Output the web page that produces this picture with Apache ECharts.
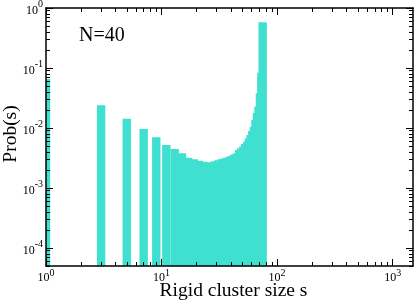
<!DOCTYPE html>
<html>
<head>
<meta charset="utf-8">
<script src="https://cdn.jsdelivr.net/npm/echarts@6/dist/echarts.min.js"></script>
<style>
  html, body { margin: 0; padding: 0; background: #fff; }
  #chart { width: 415px; height: 306px; }
</style>
</head>
<body>
<div id="chart"></div>
<script>
// ---- data ----
const clusterSizes = [1, 3, 5, 7, 9, 11, 13, 15, 17, 19, 21, 23, 25, 27, 29, 31, 33, 35, 37, 39,
                      41, 43, 45, 47, 49, 51, 53, 55, 57, 59, 61, 63, 65, 67, 69, 71, 73, 75];
const probValues   = [0.0656, 0.0239, 0.0143, 0.0096, 0.0070, 0.0052, 0.00447, 0.00379, 0.0032, 0.0030,
                      0.00285, 0.00274, 0.00268, 0.00264, 0.0028, 0.0029, 0.0030, 0.0031, 0.0032, 0.0033,
                      0.00345, 0.0036, 0.0038, 0.0043, 0.0046, 0.0049, 0.0054, 0.0059, 0.0067, 0.0076,
                      0.0089, 0.0105, 0.0136, 0.0178, 0.0225, 0.038, 0.083, 0.58];

// axis ranges and ticks
const xRange = [1, 1500];
const yRange = [5e-5, 1];
const xMajorTicks = [1, 10, 100, 1000];
const xMinorTicks = [2, 3, 4, 5, 6, 7, 8, 9, 20, 30, 40, 50, 60, 70, 80, 90,
                     200, 300, 400, 500, 600, 700, 800, 900];
const yMajorTicks = [1e-4, 1e-3, 1e-2, 1e-1, 1];
const yMinorTicks = [5e-5, 6e-5, 7e-5, 8e-5, 9e-5,
                     2e-4, 3e-4, 4e-4, 5e-4, 6e-4, 7e-4, 8e-4, 9e-4,
                     2e-3, 3e-3, 4e-3, 5e-3, 6e-3, 7e-3, 8e-3, 9e-3,
                     2e-2, 3e-2, 4e-2, 5e-2, 6e-2, 7e-2, 8e-2, 9e-2,
                     0.2, 0.3, 0.4, 0.5, 0.6, 0.7, 0.8, 0.9];
const xTitle = 'Rigid cluster size s';
const yTitle = 'Prob(s)';
const annotation = 'N=40';

const FONT = '"Liberation Serif", "Times New Roman", serif';
const BAR_COLOR = '#40E0D0';
const lg = v => Math.log10(v);

function powLabel(v) {
  const e = Math.round(Math.log10(v));
  return '{b|10}{s|' + e + '}';
}
const xLabelRich = {
  b: { fontFamily: FONT, fontSize: 12, color: '#000', lineHeight: 16, verticalAlign: 'bottom' },
  s: { fontFamily: FONT, fontSize: 10, color: '#000', lineHeight: 10, verticalAlign: 'top' }
};
const yLabelRich = {
  b: { fontFamily: FONT, fontSize: 12, color: '#000', lineHeight: 18, verticalAlign: 'bottom' },
  s: { fontFamily: FONT, fontSize: 10, color: '#000', lineHeight: 10, verticalAlign: 'top' }
};

// main log axes: carry data, labels, names and frame lines
const xMain = {
  type: 'log', logBase: 10, min: xRange[0], max: xRange[1], position: 'bottom', z: 10,
  axisLine: { show: true, onZero: false, lineStyle: { color: '#000', width: 1.5 } },
  axisTick: { show: false }, minorTick: { show: false }, splitLine: { show: false },
  axisLabel: { show: true, customValues: xMajorTicks, margin: 2, formatter: powLabel, rich: xLabelRich },
  name: xTitle, nameLocation: 'middle', nameGap: 15, nameMoveOverlap: false,
  nameTextStyle: { fontFamily: FONT, fontSize: 19.5, color: '#000', padding: [0, 0, 0, 8] }
};
const yMain = {
  type: 'log', logBase: 10, min: yRange[0], max: yRange[1], position: 'left', z: 10,
  axisLine: { show: true, onZero: false, lineStyle: { color: '#000', width: 1.5 } },
  axisTick: { show: false }, minorTick: { show: false }, splitLine: { show: false },
  axisLabel: { show: true, customValues: yMajorTicks, margin: 3, formatter: powLabel, rich: yLabelRich },
  name: yTitle, nameLocation: 'middle', nameGap: 25, nameMoveOverlap: false,
  nameTextStyle: { fontFamily: FONT, fontSize: 19.5, color: '#000', padding: [0, 0, 0, 6] }
};

// tick-only axes (same log scale expressed as exponents)
function tickAxis(range, pos, ticks, len, line) {
  return {
    type: 'value', min: lg(range[0]), max: lg(range[1]), position: pos, z: 10,
    axisLine: { show: line, onZero: false, lineStyle: { color: '#000', width: 1.5 } },
    axisTick: { show: true, inside: true, length: len,
                lineStyle: { color: '#000', width: 1 }, customValues: ticks.map(lg) },
    minorTick: { show: false }, splitLine: { show: false },
    axisLabel: { show: false }
  };
}

const chart = echarts.init(document.getElementById('chart'), null, { renderer: 'canvas' });
chart.setOption({
  animation: false,
  backgroundColor: '#fff',
  title: {
    text: annotation, left: 74, top: 21,
    textStyle: { fontFamily: FONT, fontSize: 20, fontWeight: 'normal', color: '#000' }
  },
  grid: { left: 46, right: 2, top: 8, bottom: 40, containLabel: false, outerBoundsMode: 'none' },
  xAxis: [
    xMain,
    tickAxis(xRange, 'bottom', xMajorTicks, 7, false),
    tickAxis(xRange, 'bottom', xMinorTicks, 4, false),
    tickAxis(xRange, 'top', xMajorTicks, 7, true),
    tickAxis(xRange, 'top', xMinorTicks, 4, false)
  ],
  yAxis: [
    yMain,
    tickAxis(yRange, 'left', yMajorTicks, 7, false),
    tickAxis(yRange, 'left', yMinorTicks, 4, false),
    tickAxis(yRange, 'right', yMajorTicks, 7, true),
    tickAxis(yRange, 'right', yMinorTicks, 4, false)
  ],
  series: [{
    type: 'custom',
    xAxisIndex: 0, yAxisIndex: 0,
    data: clusterSizes.map((s, i) => [s, probValues[i]]),
    renderItem: function (params, api) {
      const s = api.value(0), p = api.value(1);
      const top = api.coord([s, p]);
      const base = api.coord([s, yRange[0]]);
      const w = 8.4;
      const rect = echarts.graphic.clipRectByRect(
        { x: top[0] - w / 2, y: top[1], width: w, height: base[1] - top[1] },
        { x: params.coordSys.x, y: params.coordSys.y,
          width: params.coordSys.width, height: params.coordSys.height });
      if (!rect) return;
      return { type: 'rect', shape: rect, style: { fill: BAR_COLOR } };
    },
    z: 2
  }]
});
</script>
</body>
</html>
